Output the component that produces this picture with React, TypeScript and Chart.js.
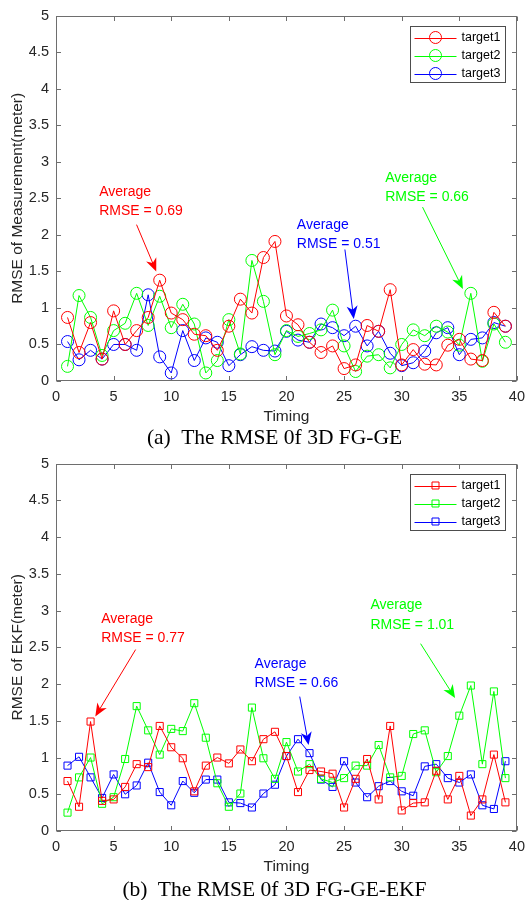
import React, { useEffect, useRef } from 'react';
import { Chart, registerables } from 'chart.js';

Chart.register(...registerables);

// ---------- data ----------
const timing = [1, 2, 3, 4, 5, 6, 7, 8, 9, 10, 11, 12, 13, 14, 15, 16, 17, 18, 19, 20, 21, 22, 23, 24, 25, 26, 27, 28, 29, 30, 31, 32, 33, 34, 35, 36, 37, 38, 39];
const xTickValues = [0, 5, 10, 15, 20, 25, 30, 35, 40];
const yTickValues = [0, 0.5, 1, 1.5, 2, 2.5, 3, 3.5, 4, 4.5, 5];
const seriesNames = ['target1', 'target2', 'target3'];

// (a) RMSE of measurement (3D FG-GE)
const measTarget1 = [0.87, 0.39, 0.80, 0.30, 0.96, 0.50, 0.69, 0.87, 1.38, 0.93, 0.84, 0.64, 0.62, 0.42, 0.75, 1.12, 0.93, 1.69, 1.91, 0.89, 0.77, 0.53, 0.39, 0.48, 0.17, 0.22, 0.76, 0.68, 1.25, 0.22, 0.43, 0.23, 0.22, 0.49, 0.57, 0.30, 0.28, 0.94, 0.75];
const measTarget2 = [0.20, 1.17, 0.87, 0.35, 0.69, 0.79, 1.20, 0.76, 1.16, 0.73, 1.05, 0.78, 0.11, 0.28, 0.84, 0.37, 1.65, 1.09, 0.36, 0.69, 0.61, 0.65, 0.70, 0.97, 0.48, 0.13, 0.34, 0.36, 0.18, 0.50, 0.70, 0.62, 0.75, 0.67, 0.49, 1.20, 0.27, 0.78, 0.53];
const measTarget3 = [0.54, 0.29, 0.42, 0.30, 0.50, 0.50, 0.42, 1.18, 0.33, 0.11, 0.69, 0.28, 0.59, 0.53, 0.21, 0.36, 0.47, 0.42, 0.41, 0.68, 0.56, 0.53, 0.78, 0.73, 0.62, 0.75, 0.48, 0.68, 0.38, 0.21, 0.25, 0.41, 0.66, 0.73, 0.36, 0.57, 0.59, 0.80, 0.75];

// (b) RMSE of EKF (3D FG-GE-EKF)
const ekfTarget1 = [0.68, 0.33, 1.49, 0.41, 0.43, 0.60, 0.91, 0.87, 1.43, 1.14, 0.99, 0.54, 0.89, 1.00, 0.92, 1.11, 0.95, 1.25, 1.35, 1.02, 0.53, 0.83, 0.81, 0.78, 0.32, 0.71, 0.98, 0.43, 1.43, 0.28, 0.38, 0.39, 0.82, 0.43, 0.75, 0.21, 0.43, 1.04, 0.39];
const ekfTarget2 = [0.25, 0.73, 1.00, 0.37, 0.46, 0.98, 1.70, 1.37, 1.04, 1.39, 1.36, 1.74, 1.27, 0.65, 0.33, 0.51, 1.68, 0.99, 0.71, 1.21, 0.81, 0.91, 0.71, 0.66, 0.72, 0.89, 0.89, 1.17, 0.73, 0.75, 1.32, 1.37, 0.80, 1.02, 1.57, 1.98, 0.91, 1.90, 0.72];
const ekfTarget3 = [0.89, 1.01, 0.73, 0.45, 0.77, 0.50, 0.62, 0.93, 0.53, 0.35, 0.68, 0.52, 0.70, 0.70, 0.39, 0.38, 0.32, 0.51, 0.63, 1.02, 1.25, 1.06, 0.70, 0.60, 0.95, 0.66, 0.46, 0.61, 0.68, 0.54, 0.48, 0.88, 0.91, 0.72, 0.66, 0.77, 0.35, 0.30, 0.95];

// annotations: [textX, line1Y, line2Y, arrowFromX, arrowFromY, arrowToX, arrowToY] in data units
const measNoteText = ['RMSE = 0.69', 'RMSE = 0.51', 'RMSE = 0.66'];
const measNotePos = [
  [3.75, 2.59, 2.33, 6.99, 2.14, 8.70, 1.50],
  [20.9, 2.14, 1.88, 25.07, 1.80, 25.84, 0.85],
  [28.57, 2.78, 2.52, 31.81, 2.38, 35.31, 1.26],
];
const ekfNoteText = ['RMSE = 0.77', 'RMSE = 0.66', 'RMSE = 1.01'];
const ekfNotePos = [
  [3.92, 2.89, 2.63, 6.91, 2.47, 3.41, 1.56],
  [17.23, 2.27, 2.01, 21.15, 1.83, 21.92, 1.17],
  [27.29, 3.07, 2.80, 31.64, 2.55, 34.63, 1.81],
];

const COLORS = ['#ff0000', '#00ff00', '#0000ff'];
const NOTE_COLORS = ['#ff0000', '#0000ff', '#00ff00'];
const SANS = '"Liberation Sans", Arial, Helvetica, sans-serif';
const SERIF = '"Liberation Serif", "Times New Roman", serif';
const AXIS_TEXT = '#262626';
const FRAME = '#6e6e6e';

function drawArrow(ctx: CanvasRenderingContext2D, x1: number, y1: number, x2: number, y2: number, color: string) {
  const dx = x2 - x1, dy = y2 - y1;
  const len = Math.hypot(dx, dy);
  const ux = dx / len, uy = dy / len;
  const nx = -uy, ny = ux;
  const L = 13, W = 5.5;
  ctx.save();
  ctx.strokeStyle = color;
  ctx.fillStyle = color;
  ctx.lineWidth = 1;
  ctx.beginPath();
  ctx.moveTo(x1, y1);
  ctx.lineTo(x2 - ux * L * 0.6, y2 - uy * L * 0.6);
  ctx.stroke();
  ctx.beginPath();
  ctx.moveTo(x2, y2);
  ctx.lineTo(x2 - ux * L + nx * W, y2 - uy * L + ny * W);
  ctx.lineTo(x2 - ux * L * 0.7, y2 - uy * L * 0.7);
  ctx.lineTo(x2 - ux * L - nx * W, y2 - uy * L - ny * W);
  ctx.closePath();
  ctx.fill();
  ctx.restore();
}

function makeFramePlugin(marker: string, noteText: string[], notePos: number[][]) {
  return {
    id: 'matlabFrame',
    afterDraw(chart: any) {
      const ctx: CanvasRenderingContext2D = chart.ctx;
      const { left, right, top, bottom } = chart.chartArea;
      const xs = chart.scales.x, ys = chart.scales.y;
      ctx.save();
      // box
      ctx.strokeStyle = FRAME;
      ctx.lineWidth = 1;
      const L = Math.round(left) + 0.5, R = Math.round(right) - 0.5, T = Math.round(top) + 0.5, B = Math.round(bottom) - 0.5;
      ctx.strokeRect(L, T, R - L, B - T);
      // inward ticks
      const tl = 4.5;
      ctx.beginPath();
      xTickValues.forEach((v) => {
        const px = Math.round(xs.getPixelForValue(v)) + 0.5;
        ctx.moveTo(px, B); ctx.lineTo(px, B - tl);
        ctx.moveTo(px, T); ctx.lineTo(px, T + tl);
      });
      yTickValues.forEach((v) => {
        const py = Math.round(ys.getPixelForValue(v)) + 0.5;
        ctx.moveTo(L, py); ctx.lineTo(L + tl, py);
        ctx.moveTo(R, py); ctx.lineTo(R - tl, py);
      });
      ctx.stroke();

      // annotations
      ctx.font = `14px ${SANS}`;
      ctx.textAlign = 'left';
      ctx.textBaseline = 'middle';
      notePos.forEach((p, i) => {
        const c = NOTE_COLORS[i];
        ctx.fillStyle = c;
        const tx = xs.getPixelForValue(p[0]);
        ctx.fillText('Average', tx, ys.getPixelForValue(p[1]));
        ctx.fillText(noteText[i], tx, ys.getPixelForValue(p[2]));
        drawArrow(ctx, xs.getPixelForValue(p[3]), ys.getPixelForValue(p[4]), xs.getPixelForValue(p[5]), ys.getPixelForValue(p[6]), c);
      });

      // legend
      const bw = 95, bh = 56;
      const bx = Math.round(right) - 107 + 0.5;
      const by = Math.round(top) + 10 + 0.5;
      ctx.fillStyle = '#ffffff';
      ctx.fillRect(bx, by, bw, bh);
      ctx.strokeStyle = '#4d4d4d';
      ctx.strokeRect(bx, by, bw, bh);
      ctx.font = `12.5px ${SANS}`;
      seriesNames.forEach((name, i) => {
        const cy = by + 11 + i * 18;
        const c = COLORS[i];
        ctx.strokeStyle = c;
        ctx.lineWidth = 1;
        ctx.beginPath();
        ctx.moveTo(bx + 4, Math.round(cy) + 0.5);
        ctx.lineTo(bx + 46, Math.round(cy) + 0.5);
        ctx.stroke();
        const mx = bx + 25;
        ctx.beginPath();
        if (marker === 'circle') {
          ctx.arc(mx, cy, 6, 0, Math.PI * 2);
        } else {
          ctx.rect(mx - 3.5, cy - 3.5, 7, 7);
        }
        ctx.stroke();
        ctx.fillStyle = '#000000';
        ctx.fillText(name, bx + 51, cy);
      });
      ctx.restore();
    },
  };
}

function buildChart(canvas: HTMLCanvasElement, values: number[][], marker: string, yLabel: string, noteText: string[], notePos: number[][]) {
  const tickFont = { family: SANS, size: 14.5 };
  const titleFont = { family: SANS, size: 15.5 };
  return new Chart(canvas, {
    type: 'line',
    data: {
      datasets: values.map((vals, i) => ({
        label: seriesNames[i],
        data: timing.map((t, j) => ({ x: t, y: vals[j] })),
        borderColor: COLORS[i],
        backgroundColor: 'rgba(0,0,0,0)',
        borderWidth: 1,
        pointStyle: marker as any,
        pointRadius: marker === 'circle' ? 6 : 5,
        pointBorderWidth: 1,
        pointBorderColor: COLORS[i],
        pointBackgroundColor: 'rgba(0,0,0,0)',
        tension: 0,
        fill: false,
      })),
    },
    options: {
      responsive: false,
      animation: false,
      events: [],
      layout: { padding: { top: 12, right: 8, left: 0, bottom: 0 } },
      plugins: {
        legend: { display: false },
        tooltip: { enabled: false },
        title: { display: false },
      },
      scales: {
        x: {
          type: 'linear',
          min: 0,
          max: 40,
          afterBuildTicks: (s: any) => { s.ticks = xTickValues.map((v) => ({ value: v })); },
          afterFit: (s: any) => { s.height = 45; },
          grid: { display: false, drawTicks: false },
          border: { display: false },
          ticks: { padding: 7, color: AXIS_TEXT, font: tickFont, maxRotation: 0, autoSkip: false, callback: (v: any) => String(v) },
          title: { display: true, text: 'Timing', color: AXIS_TEXT, font: titleFont, padding: { top: 0, bottom: 0 } },
        },
        y: {
          type: 'linear',
          min: 0,
          max: 5,
          afterBuildTicks: (s: any) => { s.ticks = yTickValues.map((v) => ({ value: v })); },
          afterFit: (s: any) => { s.width = 56; },
          grid: { display: false, drawTicks: false },
          border: { display: false },
          ticks: { padding: 7, color: AXIS_TEXT, font: tickFont, autoSkip: false, callback: (v: any) => String(v) },
          title: { display: true, text: yLabel, color: AXIS_TEXT, font: titleFont, padding: { top: 8, bottom: 0 } },
        },
      },
    },
    plugins: [makeFramePlugin(marker, noteText, notePos)],
  } as any);
}

export default function App() {
  const topRef = useRef<HTMLCanvasElement>(null);
  const botRef = useRef<HTMLCanvasElement>(null);

  useEffect(() => {
    const a = buildChart(topRef.current!, [measTarget1, measTarget2, measTarget3], 'circle', 'RMSE of Measurement(meter)', measNoteText, measNotePos);
    const b = buildChart(botRef.current!, [ekfTarget1, ekfTarget2, ekfTarget3], 'rect', 'RMSE of EKF(meter)', ekfNoteText, ekfNotePos);
    return () => { a.destroy(); b.destroy(); };
  }, []);

  const captionStyle: React.CSSProperties = {
    position: 'absolute',
    left: 0,
    width: 549,
    textAlign: 'center',
    fontFamily: SERIF,
    fontSize: 21.5,
    lineHeight: '22px',
    height: 22,
    whiteSpace: 'pre',
    color: '#000',
  };

  return (
    <div style={{ position: 'absolute', left: 0, top: 0, width: 532, height: 900, background: '#fff', overflow: 'hidden' }}>
      <canvas ref={topRef} width={532} height={426} style={{ position: 'absolute', left: 0, top: 0 }} />
      <div style={{ ...captionStyle, top: 426 }}>{'(a)  The RMSE 0f 3D FG-GE'}</div>
      <canvas ref={botRef} width={532} height={428} style={{ position: 'absolute', left: 0, top: 448 }} />
      <div style={{ ...captionStyle, top: 878 }}>{'(b)  The RMSE 0f 3D FG-GE-EKF'}</div>
    </div>
  );
}
